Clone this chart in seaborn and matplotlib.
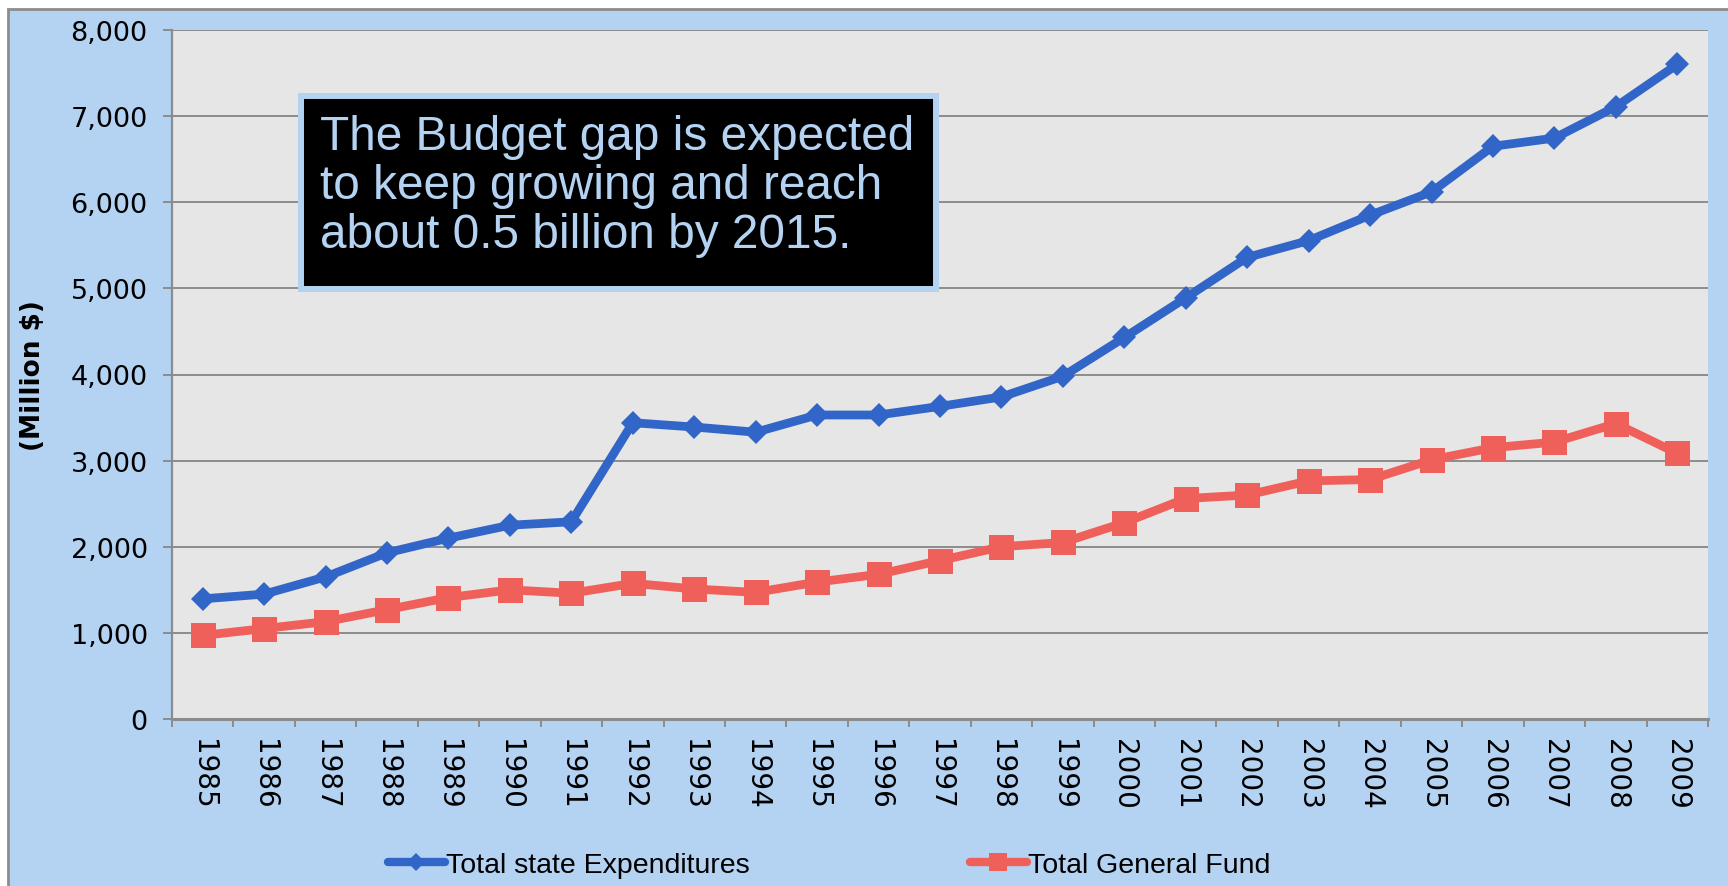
import matplotlib
matplotlib.use("Agg")
import matplotlib.pyplot as plt
import seaborn as sns
import pandas as pd
import numpy as np
from matplotlib.patches import Rectangle
from matplotlib.lines import Line2D
from matplotlib.ticker import FuncFormatter

# ---------------- data ----------------
years = list(range(1985, 2010))
expenditures = [1395, 1450, 1650, 1930, 2100, 2250, 2290, 3440, 3390, 3330,
                3530, 3530, 3630, 3740, 3980, 4430, 4890, 5360, 5555, 5850,
                6120, 6650, 6745, 7110, 7600]
general_fund = [970, 1050, 1130, 1270, 1410, 1500, 1460, 1575, 1510, 1470,
                1590, 1680, 1840, 2000, 2050, 2280, 2560, 2600, 2765, 2780,
                3010, 3150, 3215, 3430, 3085]
series_names = ["Total state Expenditures", "Total General Fund"]
y_ticks = [0, 1000, 2000, 3000, 4000, 5000, 6000, 7000, 8000]
y_label = "(Million $)"
note = "The Budget gap is expected\nto keep growing and reach\nabout 0.5 billion by 2015."

df = pd.DataFrame({
    "Year": years + years,
    "Value": expenditures + general_fund,
    "Series": [series_names[0]] * len(years) + [series_names[1]] * len(years),
})

# ---------------- style ----------------
BLUE = "#3166c8"
RED = "#f0605a"
FIG_BG = "#b4d2f1"
PLOT_BG = "#e6e6e6"
GRID = "#8c8c8c"

sns.set_theme(style="white")
plt.rcParams["font.family"] = ["DejaVu Sans"]
plt.rcParams["text.color"] = "black"

W, H = 1728, 887
fig = plt.figure(figsize=(W / 100, H / 100), dpi=100, facecolor="white")
bg = Rectangle((8 / W, -0.01), 1 - 8 / W + 0.01, (H - 10) / H + 0.01,
               transform=fig.transFigure, facecolor=FIG_BG,
               edgecolor=GRID, linewidth=2, zorder=-10)
fig.patches.append(bg)

ax = fig.add_axes([172 / W, 167 / H, 1536 / W, 689 / H])
ax.set_facecolor(PLOT_BG)

styles = {series_names[0]: dict(color=BLUE, marker="D", markersize=12.2),
          series_names[1]: dict(color=RED, marker="s", markersize=18)}
for name in series_names:
    sub = df[df["Series"] == name]
    st = styles[name]
    sns.lineplot(data=sub, x="Year", y="Value", ax=ax, color=st["color"],
                 marker=st["marker"], markersize=st["markersize"],
                 markeredgewidth=0, linewidth=6.3, legend=False, zorder=3)

# axes
ax.set_xlim(years[0] - 0.5, years[-1] + 0.5)
ax.set_ylim(y_ticks[0], y_ticks[-1])
ax.set_yticks(y_ticks)
ax.yaxis.set_major_formatter(FuncFormatter(lambda v, p: f"{v:,.0f}"))
ax.set_xticks(years)
ax.set_xticklabels([str(y) for y in years], rotation=-90)
ax.set_xticks(np.arange(years[0] - 0.5, years[-1] + 1.0, 1.0), minor=True)
ax.tick_params(axis="x", which="major", length=0, pad=14, labelsize=20, labelcolor="black")
ax.tick_params(axis="x", which="minor", length=6, width=1.4, color=GRID, direction="out", bottom=True)
ax.tick_params(axis="y", which="major", length=6.5, width=1.4, color=GRID, direction="out",
               pad=11, labelsize=19.5, labelcolor="black", left=True)
ax.yaxis.grid(True, color=GRID, linewidth=1.4)
ax.xaxis.grid(False)
ax.set_axisbelow(True)
for s in ["top", "right"]:
    ax.spines[s].set_visible(False)
ax.spines["left"].set_color(GRID)
ax.spines["left"].set_linewidth(1.6)
ax.spines["bottom"].set_color(GRID)
ax.spines["bottom"].set_linewidth(2.2)
ax.set_xlabel("")
ax.set_ylabel(y_label, fontsize=19, fontweight="bold", color="black")
ax.yaxis.set_label_coords(-0.082, 0.5)

# annotation box
fig.patches.append(Rectangle((301 / W, (H - 290) / H), 635 / W, 193 / H,
                             transform=fig.transFigure, facecolor="black",
                             edgecolor=FIG_BG, linewidth=4.3, zorder=5))
fig.text(320 / W, (H - 115) / H, note, fontsize=34.4, color=FIG_BG,
         family=["Liberation Sans", "DejaVu Sans"], va="top", ha="left",
         linespacing=1.12, zorder=6)

# legend (one entry each, placed at their positions)
handles = [Line2D([], [], color=BLUE, marker="D", markersize=9, markeredgewidth=0, linewidth=6),
           Line2D([], [], color=RED, marker="s", markersize=13, markeredgewidth=0, linewidth=6)]
for h, name, x0 in zip(handles, series_names, [388, 970]):
    fig.legend([h], [name], loc="center left", bbox_to_anchor=(x0 / W, 21 / H),
               frameon=False, handlelength=2.0, handletextpad=0.05,
               borderpad=0, borderaxespad=0, labelcolor="black",
               prop={"family": ["Liberation Sans", "DejaVu Sans"], "size": 20.5})

fig.savefig("out.png", dpi=100, facecolor=fig.get_facecolor())
